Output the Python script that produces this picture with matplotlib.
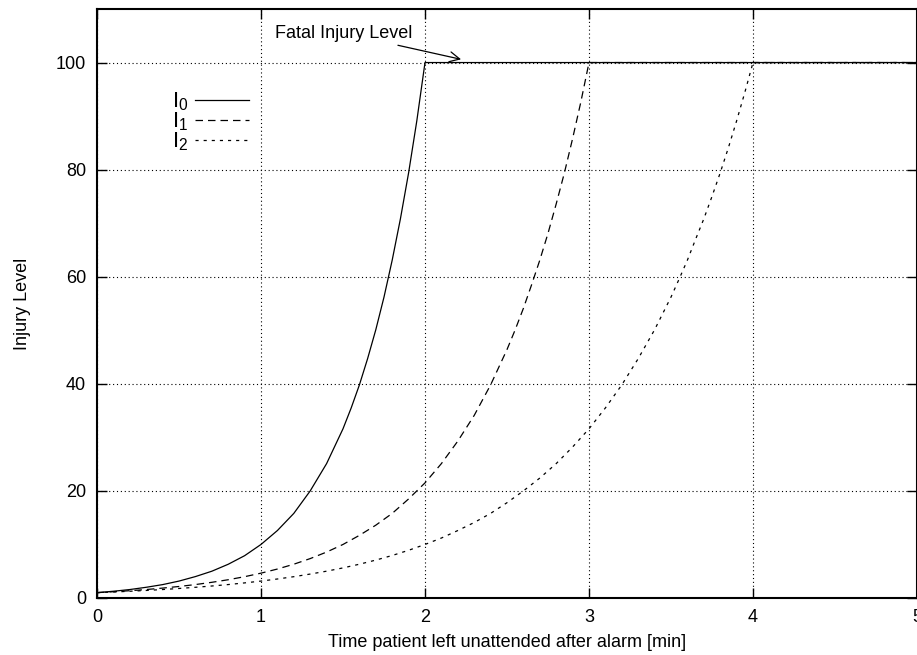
import matplotlib
matplotlib.use("Agg")
from matplotlib import pyplot as plt

plt.rcParams['font.family'] = ['Liberation Sans', 'DejaVu Sans']

# injury level, every 0.1 min (0.05 near the steep end)
t0 = [0.0, 0.1, 0.2, 0.3, 0.4, 0.5, 0.6, 0.7, 0.8, 0.9, 1.0, 1.1, 1.2, 1.3, 1.4,
      1.5, 1.55, 1.6, 1.65, 1.7, 1.75, 1.8, 1.85, 1.9, 1.95, 2.0, 5.0]
i0 = [1.0, 1.26, 1.58, 2.0, 2.5, 3.16, 4.0, 5.0, 6.3, 7.9, 10.0, 12.6, 15.8, 20.0,
      25.1, 31.6, 35.5, 39.8, 44.7, 50.1, 56.2, 63.1, 70.8, 79.4, 89.1, 100.0, 100.0]

t1 = [0.0, 0.1, 0.2, 0.3, 0.4, 0.5, 0.6, 0.7, 0.8, 0.9, 1.0, 1.1, 1.2, 1.3, 1.4,
      1.5, 1.6, 1.7, 1.8, 1.9, 2.0, 2.1, 2.2, 2.3, 2.4, 2.5, 2.55, 2.6, 2.65, 2.7,
      2.75, 2.8, 2.85, 2.9, 2.95, 3.0, 5.0]
i1 = [1.0, 1.17, 1.36, 1.58, 1.85, 2.15, 2.51, 2.93, 3.41, 3.98, 4.64, 5.41, 6.31,
      7.36, 8.58, 10.0, 11.7, 13.6, 15.8, 18.5, 21.5, 25.1, 29.3, 34.1, 39.8, 46.4,
      50.1, 54.1, 58.5, 63.1, 68.1, 73.6, 79.4, 85.8, 92.6, 100.0, 100.0]

t2 = [0.0, 0.1, 0.2, 0.3, 0.4, 0.5, 0.6, 0.7, 0.8, 0.9, 1.0, 1.1, 1.2, 1.3, 1.4,
      1.5, 1.6, 1.7, 1.8, 1.9, 2.0, 2.1, 2.2, 2.3, 2.4, 2.5, 2.6, 2.7, 2.8, 2.9,
      3.0, 3.1, 3.2, 3.3, 3.4, 3.5, 3.55, 3.6, 3.65, 3.7, 3.75, 3.8, 3.85, 3.9,
      3.95, 4.0, 5.0]
i2 = [1.0, 1.12, 1.26, 1.41, 1.58, 1.78, 2.0, 2.24, 2.51, 2.82, 3.16, 3.55, 3.98,
      4.47, 5.01, 5.62, 6.31, 7.08, 7.94, 8.91, 10.0, 11.2, 12.6, 14.1, 15.8, 17.8,
      20.0, 22.4, 25.1, 28.2, 31.6, 35.5, 39.8, 44.7, 50.1, 56.2, 59.6, 63.1, 67.0,
      70.8, 75.0, 79.4, 84.1, 89.1, 94.4, 100.0, 100.0]

xticks = [0, 1, 2, 3, 4, 5]
yticks = [0, 20, 40, 60, 80, 100]

fig = plt.figure(figsize=(9.17, 6.55), dpi=100)
ax = fig.add_axes([97 / 917, 57 / 655, 820 / 917, 589 / 655])

ax.plot(t2, i2, color='black', lw=0.9, linestyle=(0, (2.5, 4)), label='$\\mathregular{I_2}$')
ax.plot(t1, i1, color='black', lw=0.9, linestyle=(0, (6, 4)), label='$\\mathregular{I_1}$')
ax.plot(t0, i0, color='black', lw=0.9, label='$\\mathregular{I_0}$')

ax.set_xlim(0, 5)
ax.set_ylim(0, 110)
ax.set_xticks(xticks)
ax.set_yticks(yticks)
ax.tick_params(direction='in', length=7, width=1, top=True, right=True,
               labelsize=13, pad=8)
ax.grid(True, color='black', linestyle=(0, (1, 2.5)), linewidth=0.8)
for s in ax.spines.values():
    s.set_linewidth(1.5)

ax.set_xlabel('Time patient left unattended after alarm [min]', fontsize=13, labelpad=6)
ax.set_ylabel('Injury Level', fontsize=13, labelpad=18)

ax.annotate('Fatal Injury Level', xy=(2.22, 100.6), xytext=(1.92, 105.5),
            fontsize=13, ha='right', va='center',
            arrowprops=dict(arrowstyle='->', color='black', lw=0.9,
                            shrinkA=3, shrinkB=0, mutation_scale=18))

handles, labels = ax.get_legend_handles_labels()
ax.legend(handles[::-1], labels[::-1], loc='upper left', bbox_to_anchor=(0.078, 0.88),
          frameon=False, fontsize=16, markerfirst=False, handlelength=2.4,
          handletextpad=0.3, labelspacing=-0.12, borderpad=0)

fig.savefig('out.png', dpi=100)
